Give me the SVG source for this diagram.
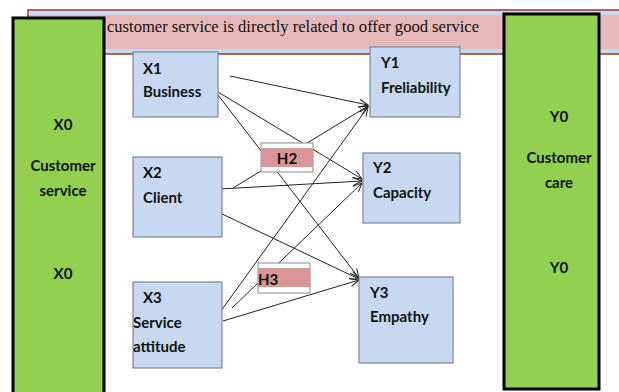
<svg xmlns="http://www.w3.org/2000/svg" width="619" height="392" viewBox="0 0 619 392">
  <style>
    .lbl { font-family: "Lato", "Liberation Sans", sans-serif; font-weight: bold; font-size: 15px; fill: #111; }
    .box { fill: #c6d9f1; stroke: #7d8795; stroke-width: 1.2; }
    .side { fill: #92d050; stroke: #000; stroke-width: 3; }
    .conn { stroke: #222; stroke-width: 1; fill: none; marker-end: url(#arrow); }
    .hbox { fill: #fff; stroke: #8a8a8a; stroke-width: 1; }
    .hfill { fill: #d99694; }
  </style>
  <defs>
    <marker id="arrow" markerUnits="userSpaceOnUse" markerWidth="12" markerHeight="12" refX="10" refY="5" orient="auto">
      <path d="M1,1 L10,5 L1,9" fill="none" stroke="#222" stroke-width="1"/>
    </marker>
  </defs>
  <rect width="619" height="392" fill="#fff"/>

  <!-- title banner -->
  <g id="banner">
    <rect x="28" y="10" width="600" height="44" fill="#c6d9f1" stroke="#953735" stroke-width="1.5"/>
    <rect x="30" y="15" width="598" height="34" fill="#e6b8b7"/>
    <text x="107" y="32" font-family="Liberation Serif, serif" font-size="17" fill="#111" textLength="372" lengthAdjust="spacingAndGlyphs">customer service is directly related to offer good service</text>
  </g>

  <!-- side panels -->
  <g id="x0">
    <rect class="side" x="13" y="18" width="91" height="380"/>
    <text class="lbl" x="63" y="130" text-anchor="middle">X0</text>
    <text class="lbl" x="63" y="171" text-anchor="middle">Customer</text>
    <text class="lbl" x="63" y="196" text-anchor="middle">service</text>
    <text class="lbl" x="63" y="279" text-anchor="middle">X0</text>
  </g>
  <g id="y0">
    <rect class="side" x="504" y="14" width="95" height="375"/>
    <text class="lbl" x="559" y="122" text-anchor="middle">Y0</text>
    <text class="lbl" x="559" y="163" text-anchor="middle">Customer</text>
    <text class="lbl" x="559" y="188" text-anchor="middle">care</text>
    <text class="lbl" x="559" y="273" text-anchor="middle">Y0</text>
  </g>

  <!-- connectors -->
  <g id="connectors">
    <line class="conn" x1="230" y1="76" x2="368" y2="105"/>
    <line class="conn" x1="218" y1="92" x2="362" y2="179"/>
    <line class="conn" x1="218" y1="95" x2="359" y2="278"/>
    <line class="conn" x1="233" y1="188" x2="368" y2="106"/>
    <line class="conn" x1="220" y1="189" x2="362" y2="181"/>
    <line class="conn" x1="220" y1="213" x2="359" y2="279"/>
    <line class="conn" x1="218" y1="315" x2="368" y2="107"/>
    <line class="conn" x1="232" y1="308" x2="362" y2="183"/>
    <line class="conn" x1="223" y1="321" x2="359" y2="280"/>
  </g>

  <!-- source factors -->
  <g id="x1">
    <rect class="box" x="133" y="52" width="85" height="65"/>
    <text class="lbl" x="143" y="74">X1</text>
    <text class="lbl" x="143" y="97">Business</text>
  </g>
  <g id="x2">
    <rect class="box" x="133" y="157" width="89" height="80"/>
    <text class="lbl" x="143" y="178">X2</text>
    <text class="lbl" x="143" y="203">Client</text>
  </g>
  <g id="x3">
    <rect class="box" x="133" y="282" width="89" height="86"/>
    <text class="lbl" x="143" y="303">X3</text>
    <text class="lbl" x="133" y="328">Service</text>
    <text class="lbl" x="133" y="352">attitude</text>
  </g>

  <!-- target factors -->
  <g id="y1">
    <rect class="box" x="370" y="47" width="90" height="70"/>
    <text class="lbl" x="381" y="68">Y1</text>
    <text class="lbl" x="381" y="93">Freliability</text>
  </g>
  <g id="y2">
    <rect class="box" x="363" y="153" width="97" height="70"/>
    <text class="lbl" x="373" y="173">Y2</text>
    <text class="lbl" x="373" y="198">Capacity</text>
  </g>
  <g id="y3">
    <rect class="box" x="359" y="277" width="94" height="86"/>
    <text class="lbl" x="370" y="298">Y3</text>
    <text class="lbl" x="370" y="322">Empathy</text>
  </g>

  <!-- hypothesis tags -->
  <g id="h2">
    <rect class="hbox" x="261" y="143" width="52" height="29"/>
    <rect class="hfill" x="261" y="148" width="52" height="19"/>
    <text class="lbl" x="287" y="164" text-anchor="middle">H2</text>
  </g>
  <g id="h3">
    <rect class="hbox" x="258" y="263" width="52" height="30"/>
    <rect class="hfill" x="258" y="268" width="52" height="19"/>
    <text class="lbl" x="258" y="285">H3</text>
  </g>
</svg>
